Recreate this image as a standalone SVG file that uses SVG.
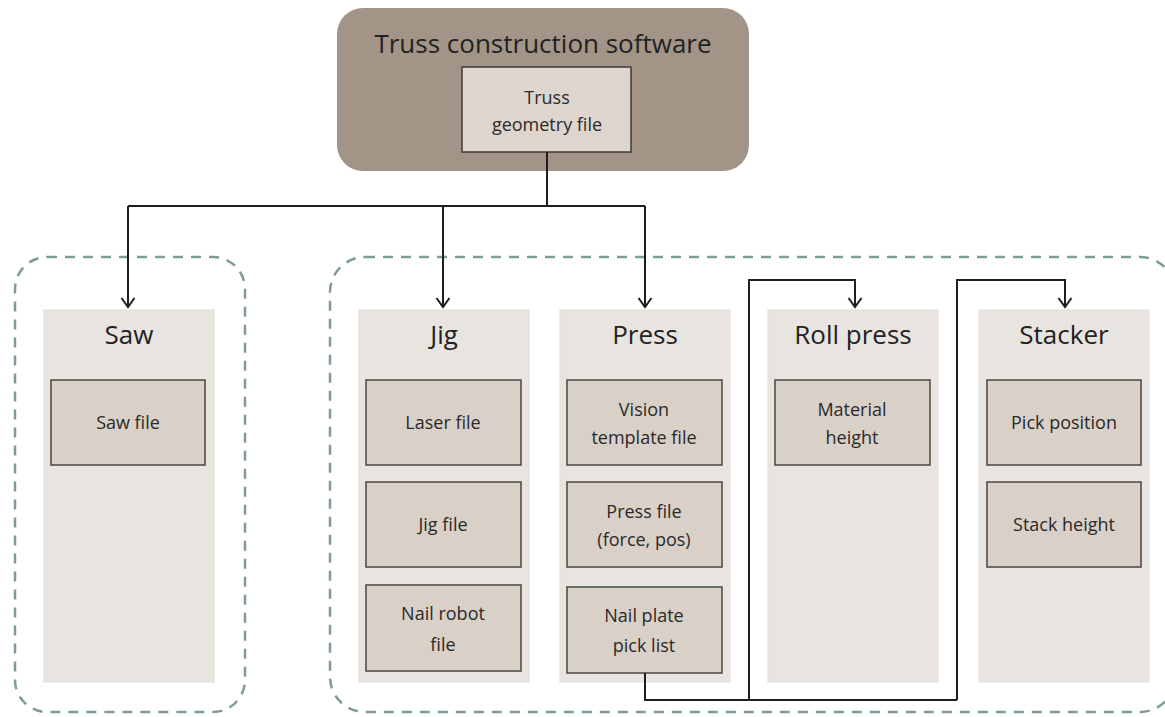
<svg xmlns="http://www.w3.org/2000/svg" width="1165" height="717" viewBox="0 0 1165 717">
<defs>
<style>
.grp{fill:none;stroke:#7e9a9a;stroke-width:2.5;stroke-dasharray:10 8}
.col{fill:#e8e5e1;stroke:#e3ddd6;stroke-width:1}
.box{fill:#d9d0c8;stroke:#4a4542;stroke-width:1.5}
.hdr{font-family:"Open Sans","Liberation Sans",sans-serif;font-size:26px;fill:#222;text-anchor:middle}
.lbl{font-family:"Open Sans","Liberation Sans",sans-serif;font-size:18px;fill:#2a2a2a;text-anchor:middle}
.con{fill:none;stroke:#1e1e1e;stroke-width:2}
</style>
<marker id="arr" markerWidth="16" markerHeight="16" refX="13" refY="8" orient="auto" markerUnits="userSpaceOnUse" viewBox="0 0 16 16">
<path d="M4,1.5 L13,8 L4,14.5" fill="none" stroke="#1e1e1e" stroke-width="2"/>
</marker>
</defs>
<rect width="1165" height="717" fill="#ffffff"/>

<g id="group-saw"><rect class="grp" x="15" y="257" width="230" height="455" rx="32"/></g>
<g id="group-main"><rect class="grp" x="330" y="257" width="845" height="455" rx="35"/></g>

<g id="software">
<rect x="337" y="8" width="412" height="163" rx="26" fill="#a29587"/>
<text class="hdr" x="543" y="53">Truss construction software</text>
</g>
<g id="truss-geometry">
<rect x="462" y="67" width="169" height="85" fill="#ddd5ce" stroke="#3e3a37" stroke-width="1.5"/>
<text class="lbl" x="547" y="104">Truss</text>
<text class="lbl" x="547" y="131">geometry file</text>
</g>

<g id="saw">
<rect class="col" x="44" y="310" width="170" height="372"/>
<text class="hdr" x="129" y="344">Saw</text>
</g>
<g id="saw-file"><rect class="box" x="51" y="380" width="154" height="85"/><text class="lbl" x="128" y="429">Saw file</text></g>

<g id="jig">
<rect class="col" x="359" y="310" width="170" height="372"/>
<text class="hdr" x="444" y="344">Jig</text>
</g>
<g id="laser-file"><rect class="box" x="366" y="380" width="155" height="85"/><text class="lbl" x="443" y="429">Laser file</text></g>
<g id="jig-file"><rect class="box" x="366" y="482" width="155" height="85"/><text class="lbl" x="443" y="531">Jig file</text></g>
<g id="nail-robot-file"><rect class="box" x="366" y="585" width="155" height="86"/><text class="lbl" x="443" y="620">Nail robot</text><text class="lbl" x="443" y="651">file</text></g>

<g id="press">
<rect class="col" x="560" y="310" width="170" height="372"/>
<text class="hdr" x="645" y="344">Press</text>
</g>
<g id="vision-template"><rect class="box" x="567" y="380" width="155" height="85"/><text class="lbl" x="644" y="416">Vision</text><text class="lbl" x="644" y="444">template file</text></g>
<g id="press-file"><rect class="box" x="567" y="482" width="155" height="85"/><text class="lbl" x="644" y="518">Press file</text><text class="lbl" x="644" y="546">(force, pos)</text></g>
<g id="nail-plate"><rect class="box" x="567" y="587" width="155" height="86"/><text class="lbl" x="644" y="622">Nail plate</text><text class="lbl" x="644" y="652">pick list</text></g>

<g id="roll-press">
<rect class="col" x="768" y="310" width="170" height="372"/>
<text class="hdr" x="853" y="344">Roll press</text>
</g>
<g id="material-height"><rect class="box" x="775" y="380" width="155" height="85"/><text class="lbl" x="852" y="416">Material</text><text class="lbl" x="852" y="444">height</text></g>

<g id="stacker">
<rect class="col" x="979" y="310" width="170" height="372"/>
<text class="hdr" x="1064" y="344">Stacker</text>
</g>
<g id="pick-position"><rect class="box" x="987" y="380" width="154" height="85"/><text class="lbl" x="1064" y="429">Pick position</text></g>
<g id="stack-height"><rect class="box" x="987" y="482" width="154" height="85"/><text class="lbl" x="1064" y="531">Stack height</text></g>

<g id="connectors">
<path class="con" d="M547,152 V206"/>
<path class="con" d="M128,206 H645"/>
<path class="con" d="M128,206 V307" marker-end="url(#arr)"/>
<path class="con" d="M443,206 V307" marker-end="url(#arr)"/>
<path class="con" d="M645,206 V307" marker-end="url(#arr)"/>
<path class="con" d="M645,673 V700 H957"/>
<path class="con" d="M749,700 V280 H855 V307" marker-end="url(#arr)"/>
<path class="con" d="M957,700 V280 H1065 V307" marker-end="url(#arr)"/>
</g>
</svg>
